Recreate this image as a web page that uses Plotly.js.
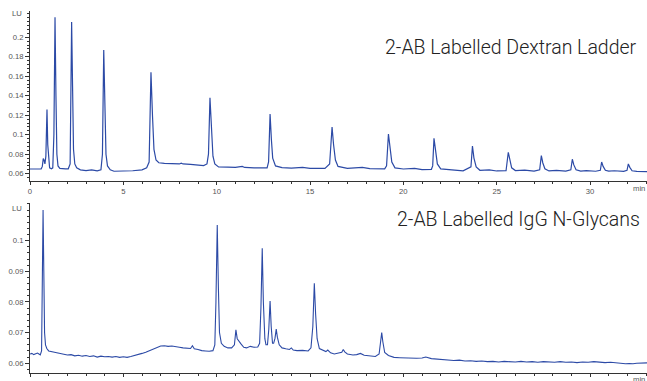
<!DOCTYPE html>
<html>
<head>
<meta charset="utf-8">
<script src="https://cdn.plot.ly/plotly-3.0.1.min.js"></script>
<style>html,body{margin:0;padding:0;background:#fff;}#chart{width:647px;height:381px;}</style>
</head>
<body>
<div id="chart"></div>
<script>
// Top chromatogram: 2-AB Labelled Dextran Ladder (time in min, signal in LU)
const dextranTime = [0,0.3,0.6,0.66,0.71,0.76,0.80,0.85,0.91,0.95,1.00,1.05,1.15,1.22,1.28,1.34,1.39,1.44,1.50,1.60,1.90,2.05,2.15,2.23,2.28,2.33,2.40,2.50,2.70,3.0,3.3,3.6,3.80,3.88,3.95,4.01,4.07,4.15,4.3,4.5,5.0,5.5,6.0,6.25,6.38,6.48,6.56,6.64,6.75,6.9,7.2,7.6,8.0,8.1,8.2,8.6,9.0,9.3,9.48,9.56,9.64,9.71,9.8,9.9,10.1,10.6,11.0,11.37,11.5,12.0,12.7,12.78,12.86,12.93,13.0,13.15,13.5,14.0,14.6,15.0,15.8,16.05,16.18,16.26,16.36,16.5,17.0,17.8,18.2,19.0,19.1,19.2,19.28,19.38,19.55,20.0,20.6,21.0,21.5,21.57,21.64,21.72,21.82,22.0,22.7,23.2,23.62,23.7,23.78,23.9,24.1,24.6,25.0,25.5,25.62,25.7,25.8,26.0,26.5,27.0,27.3,27.39,27.47,27.58,27.8,28.2,28.7,28.97,29.05,29.13,29.25,29.5,29.8,30.3,30.55,30.62,30.7,30.82,31.0,31.3,31.8,31.98,32.05,32.13,32.25,32.5,33.05];
const dextranSignal = [0.0648,0.0648,0.0650,0.0675,0.0755,0.0735,0.0700,0.0780,0.1260,0.0900,0.0700,0.0660,0.0650,0.0660,0.1000,0.2205,0.1400,0.0800,0.0680,0.0655,0.0650,0.0650,0.0700,0.2157,0.1500,0.0850,0.0700,0.0660,0.0640,0.0632,0.0640,0.0630,0.0640,0.0800,0.1870,0.1300,0.0800,0.0680,0.0640,0.0625,0.0624,0.0630,0.0640,0.0660,0.0720,0.1640,0.1200,0.0850,0.0740,0.0712,0.0705,0.0704,0.0700,0.0708,0.0700,0.0695,0.0685,0.0683,0.0700,0.0800,0.1380,0.1050,0.0780,0.0700,0.0670,0.0667,0.0664,0.0675,0.0664,0.0660,0.0660,0.0720,0.1213,0.0950,0.0760,0.0680,0.0662,0.0658,0.0665,0.0655,0.0655,0.0700,0.1080,0.0900,0.0740,0.0675,0.0655,0.0665,0.0652,0.0650,0.0680,0.1007,0.0850,0.0720,0.0660,0.0648,0.0655,0.0642,0.0645,0.0680,0.0963,0.0820,0.0700,0.0650,0.0638,0.0630,0.0670,0.0884,0.0760,0.0670,0.0635,0.0640,0.0628,0.0630,0.0820,0.0730,0.0660,0.0632,0.0637,0.0626,0.0640,0.0785,0.0710,0.0650,0.0628,0.0634,0.0626,0.0640,0.0748,0.0690,0.0640,0.0626,0.0631,0.0625,0.0635,0.0720,0.0675,0.0635,0.0626,0.0630,0.0624,0.0635,0.0700,0.0665,0.0630,0.0624,0.0622];

// Bottom chromatogram: 2-AB Labelled IgG N-Glycans (rows of ten)
const iggTime = [
  0,0.1,0.2,0.3,0.4,0.5,0.55,0.62,0.66,0.70,
  0.74,0.78,0.83,0.9,1.0,1.2,1.4,1.6,1.8,2.0,
  2.2,2.4,2.6,2.8,3.0,3.2,3.4,3.6,3.8,4.0,
  4.2,4.4,4.6,4.8,5.0,5.2,5.4,5.6,5.8,6.0,
  6.2,6.4,6.6,6.8,7.0,7.2,7.4,7.6,7.8,8.0,
  8.2,8.4,8.6,8.7,8.8,9.0,9.2,9.4,9.6,9.8,
  9.9,9.96,10.03,10.09,10.15,10.25,10.4,10.6,10.8,10.95,
  11.03,11.1,11.2,11.3,11.45,11.6,11.8,12.0,12.2,12.3,
  12.37,12.44,12.5,12.58,12.64,12.72,12.79,12.86,12.92,12.99,
  13.05,13.12,13.19,13.25,13.35,13.5,13.7,13.9,14.0,14.1,
  14.3,14.6,14.9,15.05,15.15,15.23,15.3,15.38,15.5,15.7,
  15.85,15.95,16.1,16.3,16.5,16.7,16.78,16.86,17.0,17.3,
  17.5,17.7,17.9,18.2,18.5,18.7,18.78,18.84,18.9,19.0,
  19.2,19.5,19.8,20.1,20.4,20.7,21.0,21.2,21.5,21.8,
  22.1,22.4,22.7,23.0,23.3,23.6,23.9,24.2,24.5,24.8,
  25.1,25.4,25.7,26.0,26.3,26.6,26.9,27.2,27.5,27.8,
  28.1,28.4,28.7,29.0,29.3,29.6,29.9,30.2,30.5,30.8,
  31.1,31.4,31.7,31.9,32.1,32.3,32.5,32.7,32.9,33.05];
const iggSignal = [
  0.0630,0.0632,0.0628,0.0631,0.0633,0.0629,0.0627,0.0640,0.0800,0.1100,
  0.0900,0.0700,0.0660,0.0648,0.0640,0.0637,0.0635,0.0631,0.0629,0.0627,
  0.0628,0.0624,0.0626,0.0623,0.0625,0.0622,0.0624,0.0620,0.0623,0.0621,
  0.0622,0.0620,0.0622,0.0619,0.0621,0.0619,0.0622,0.0625,0.0627,0.0632,
  0.0636,0.0641,0.0646,0.0652,0.0656,0.0657,0.0655,0.0656,0.0653,0.0652,
  0.0650,0.0649,0.0648,0.0657,0.0647,0.0645,0.0641,0.0640,0.0639,0.0641,
  0.0660,0.0800,0.1051,0.0850,0.0700,0.0665,0.0655,0.0650,0.0650,0.0660,
  0.0709,0.0680,0.0670,0.0663,0.0652,0.0650,0.0655,0.0652,0.0653,0.0665,
  0.0780,0.0975,0.0800,0.0680,0.0660,0.0660,0.0710,0.0803,0.0720,0.0665,
  0.0665,0.0680,0.0711,0.0685,0.0660,0.0650,0.0647,0.0645,0.0650,0.0643,
  0.0641,0.0642,0.0640,0.0650,0.0720,0.0861,0.0760,0.0680,0.0648,0.0643,
  0.0638,0.0643,0.0634,0.0630,0.0632,0.0636,0.0645,0.0637,0.0630,0.0627,
  0.0628,0.0632,0.0626,0.0624,0.0622,0.0630,0.0665,0.0700,0.0670,0.0635,
  0.0625,0.0619,0.0618,0.0617,0.0618,0.0616,0.0617,0.0620,0.0615,0.0613,
  0.0611,0.0610,0.0609,0.0610,0.0607,0.0608,0.0606,0.0607,0.0605,0.0606,
  0.0604,0.0606,0.0605,0.0604,0.0606,0.0604,0.0605,0.0603,0.0605,0.0604,
  0.0603,0.0605,0.0603,0.0604,0.0602,0.0604,0.0603,0.0605,0.0603,0.0602,
  0.0603,0.0601,0.0600,0.0598,0.0599,0.0598,0.0600,0.0601,0.0600,0.0601];

const topXTicks = [0,5,10,15,20,25,30];
const topYTicks = [0.06,0.08,0.1,0.12,0.14,0.16,0.18,0.2];
const botYTicks = [0.06,0.07,0.08,0.09,0.1];
const panelTitles = ['2-AB Labelled Dextran Ladder','2-AB Labelled IgG N-Glycans'];
const yUnit = 'LU';
const xUnit = 'min';

const lineColor = '#2c4aa6';
const axColor = '#333';
const tickFont = {family:'Liberation Sans, Arial, sans-serif', size:7.7, color:'#555'};
const titleFont = {family:'Roboto, sans-serif', size:19.5, color:'#222', weight:300};

const traces = [
  {x:dextranTime, y:dextranSignal, xaxis:'x', yaxis:'y', type:'scatter', mode:'lines', line:{color:lineColor, width:1.2}, hoverinfo:'skip'},
  {x:iggTime, y:iggSignal, xaxis:'x2', yaxis:'y2', type:'scatter', mode:'lines', line:{color:lineColor, width:1.1}, hoverinfo:'skip'}
];

const xBase = {
  range:[0,33.05], showgrid:false, zeroline:false, showline:true, linecolor:axColor, linewidth:1,
  ticks:'outside', ticklen:3, tickwidth:1, tickcolor:axColor, tickvals:topXTicks, ticktext:topXTicks.map(String),
  tickfont:tickFont, minor:{dtick:1, tick0:0, ticks:'outside', ticklen:2, tickcolor:axColor, showgrid:false},
  domain:[30/647, 1], fixedrange:true
};
const yBase = {
  showgrid:false, zeroline:false, showline:true, linecolor:axColor, linewidth:1,
  ticks:'outside', ticklen:4, tickwidth:1, tickcolor:axColor, tickfont:tickFont, fixedrange:true
};

const layout = {
  width:647, height:381, margin:{l:0,r:0,t:0,b:0}, paper_bgcolor:'#fff', plot_bgcolor:'#fff', showlegend:false,
  xaxis: Object.assign({}, xBase, {anchor:'y'}),
  yaxis: Object.assign({}, yBase, {anchor:'x', domain:[(381-181)/381, (381-10.7)/381], range:[0.0525,0.2273],
    tickvals:topYTicks, ticktext:topYTicks.map(String),
    minor:{dtick:0.004, tick0:0, ticks:'outside', ticklen:2, tickcolor:axColor, showgrid:false}}),
  xaxis2: Object.assign({}, xBase, {anchor:'y2'}),
  yaxis2: Object.assign({}, yBase, {anchor:'x2', domain:[(381-372.7)/381, (381-203.3)/381], range:[0.0569,0.1122],
    tickvals:botYTicks, ticktext:botYTicks.map(String),
    minor:{dtick:0.002, tick0:0, ticks:'outside', ticklen:2, tickcolor:axColor, showgrid:false}}),
  annotations:[
    {text:panelTitles[0], xref:'paper', yref:'paper', x:639/647, y:(381-47)/381, xanchor:'right', yanchor:'middle', showarrow:false, font:titleFont},
    {text:panelTitles[1], xref:'paper', yref:'paper', x:642/647, y:(381-219)/381, xanchor:'right', yanchor:'middle', showarrow:false, font:titleFont},
    {text:yUnit, xref:'paper', yref:'y', x:24/647, y:0.224, xanchor:'right', yanchor:'middle', showarrow:false, font:tickFont},
    {text:yUnit, xref:'paper', yref:'y2', x:24/647, y:0.1105, xanchor:'right', yanchor:'middle', showarrow:false, font:tickFont},
    {text:xUnit, xref:'paper', yref:'paper', x:1, y:(381-188.5)/381, xanchor:'right', yanchor:'middle', showarrow:false, font:tickFont},
    {text:xUnit, xref:'paper', yref:'paper', x:1, y:(381-379)/381, xanchor:'right', yanchor:'middle', showarrow:false, font:tickFont}
  ]
};

Plotly.newPlot('chart', traces, layout, {displayModeBar:false, staticPlot:true});
</script>
</body>
</html>
